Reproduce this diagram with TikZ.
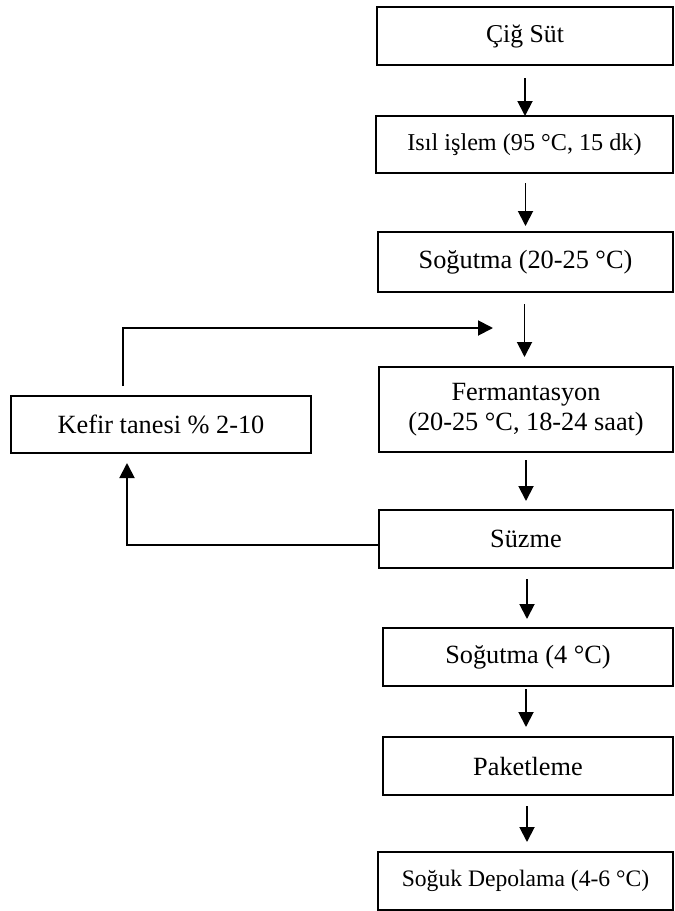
\documentclass[tikz,border=0pt]{standalone}
\usepackage{fontspec}
\setmainfont{Liberation Serif}
\usetikzlibrary{arrows.meta}
\begin{document}
\begin{tikzpicture}[x=1pt,y=-1pt,
  box/.style={draw=black,line width=2pt,rectangle,inner sep=0pt,align=center,
    font=\fontsize{26.3}{30}\selectfont},
  arr/.style={line width=1.9pt,-{Triangle[length=15pt,width=15pt]}},
  ln/.style={line width=1.9pt}]
\useasboundingbox (0,0) rectangle (675,911);
\node[box,minimum width=296pt,minimum height=58pt,font=\fontsize{25.7}{30}\selectfont] (n1) at (525,36) {Çiğ Süt};
\node[box,minimum width=297pt,minimum height=57pt,font=\fontsize{24.2}{30}\selectfont] (n2) at (524.5,144.5) {Isıl işlem (95 °C, 15 dk)};
\node[box,minimum width=295pt,minimum height=60pt] (n3) at (525.5,262) {Soğutma (20-25 °C)};
\node[box,minimum width=294pt,minimum height=85pt] (n4) at (526,409.5) {Fermantasyon\\(20-25 °C, 18-24 saat)};
\node[box,minimum width=294pt,minimum height=58pt] (n5) at (526,539) {Süzme};
\node[box,minimum width=290pt,minimum height=58pt] (n6) at (528,657) {Soğutma (4 °C)};
\node[box,minimum width=290pt,minimum height=58pt] (n7) at (528,766) {Paketleme};
\node[box,minimum width=295pt,minimum height=58pt,font=\fontsize{23.6}{30}\selectfont] (n8) at (525.5,881) {Soğuk Depolama (4-6 °C)};
\node[box,minimum width=300pt,minimum height=57pt] (kef) at (161,424.5) {Kefir tanesi \% 2-10};
% main arrows
\draw[arr,shorten <=12pt,shorten >=-1pt] (n1.south) -- (n1.south |- n2.north);
\draw[arr,shorten <=9pt,shorten >=5pt] ([xshift=1pt]n2.south) -- ([xshift=1pt]n2.south |- n3.north);
\draw[arr,shorten <=11pt,shorten >=9pt] ([xshift=-1pt]n3.south) -- ([xshift=-1pt]n3.south |- n4.north);
\draw[arr,shorten <=7pt,shorten >=8pt] (n4.south) -- (n5.north);
\draw[arr,shorten <=10pt,shorten >=8pt] ([xshift=1pt]n5.south) -- ([xshift=1pt]n5.south |- n6.north);
\draw[arr,shorten <=2pt,shorten >=9pt] ([xshift=-2pt]n6.south) -- ([xshift=-2pt]n6.south |- n7.north);
\draw[arr,shorten <=10pt,shorten >=9pt] ([xshift=-1pt]n7.south) -- ([xshift=-1pt]n7.south |- n8.north);
% feedback loop
\coordinate (join) at (525,328);
\draw[arr,shorten <=9pt,shorten >=32pt] ([xshift=-38pt]kef.north) |- (join);
\draw[arr,shorten >=9pt] ([yshift=-6pt]n5.west) -| ([xshift=-34pt]kef.south);
\end{tikzpicture}
\end{document}
